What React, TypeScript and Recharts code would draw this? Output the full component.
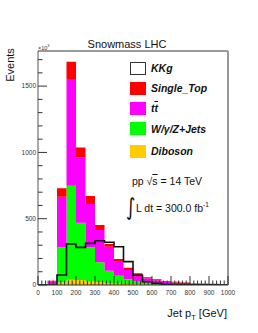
import React from 'react';
import { ComposedChart, Area, Line, XAxis, YAxis, ReferenceLine } from 'recharts';

// bin low edges in GeV, 50 GeV wide
const binEdges = [0, 50, 100, 150, 200, 250, 300, 350, 400, 450, 500, 550, 600, 650, 700, 750, 800, 850, 900, 950];
const diboson = [0, 2, 18, 40, 38, 30, 22, 15, 10, 7, 5, 3, 2, 2, 1, 1, 1, 1, 0, 0];
const wJets = [0, 6, 266, 709, 432, 255, 149, 93, 60, 36, 23, 15, 12, 8, 7, 5, 4, 3, 3, 3];
const ttbar = [0, 20, 382, 804, 493, 326, 244, 181, 106, 70, 45, 32, 21, 15, 11, 9, 6, 5, 4, 2];
const singleTop = [0, 4, 63, 131, 75, 60, 37, 20, 20, 17, 15, 8, 8, 6, 5, 3, 3, 2, 2, 2];
const kkg = [0, 0, 75, 309, 284, 314, 334, 322, 289, 176, 73, 25, 12, 6, 4, 3, 2, 1, 1, 0];

const xTicks = Array.from({ length: 51 }, (_, i) => i * 20);
const yTicks = Array.from({ length: 18 }, (_, i) => i * 100);
const X_MAX = 1000;
const Y_MAX = 1765;

const FONT = '"Liberation Sans", Arial, sans-serif';

// last edge repeats the last bin so the step closes at 1000
const data = [...binEdges, X_MAX].map((x, i) => {
    const j = Math.min(i, binEdges.length - 1);
    return { x, diboson: diboson[j], wjets: wJets[j], ttbar: ttbar[j], single: singleTop[j], kkg: kkg[j] };
});

const YTick = (props: any) => {
    const { x, y, payload } = props;
    const major = payload.value % 500 === 0;
    const ax = x + 2;
    return (
        <g>
            <line x1={ax} y1={y} x2={ax + (major ? 9 : 4.5)} y2={y} stroke="#333" strokeWidth={1} />
            {major && (
                <text x={x} y={y} dy={2.3} textAnchor="end" fontSize={6.5} fill="#333" fontFamily={FONT}>
                    {payload.value}
                </text>
            )}
        </g>
    );
};

const XTick = (props: any) => {
    const { x, y, payload } = props;
    const major = payload.value % 100 === 0;
    const ay = y - 2;
    return (
        <g>
            <line x1={x} y1={ay} x2={x} y2={ay - (major ? 9 : 4.5)} stroke="#333" strokeWidth={1} />
            {major && (
                <text x={x} y={y} dy={7.5} textAnchor="middle" fontSize={6.5} fill="#333" fontFamily={FONT}>
                    {payload.value}
                </text>
            )}
        </g>
    );
};

const legendRows = [
    { key: 'kkg', color: '#ffffff', label: <>KKg</> },
    { key: 'single', color: '#ff0000', label: <>Single_Top</> },
    { key: 'tt', color: '#ff00ff', label: <>t<span style={{ textDecoration: 'overline' }}>t</span></> },
    { key: 'w', color: '#00ff00', label: <>W/γ/Z+Jets</> },
    { key: 'db', color: '#ffcc00', label: <>Diboson</> },
];
const legendY = [68, 88, 108, 128.5, 151];

export default function App() {
    return (
        <div style={{ position: 'absolute', left: 0, top: 0, width: 258, height: 333, background: '#fff', fontFamily: FONT }}>
            <ComposedChart width={258} height={333} data={data} margin={{ top: 51, right: 30, bottom: 0, left: 0 }}>
                <XAxis
                    type="number"
                    dataKey="x"
                    domain={[0, X_MAX]}
                    ticks={xTicks}
                    interval={0}
                    height={48}
                    tickSize={0}
                    tickMargin={2}
                    tick={<XTick />}
                    axisLine={{ stroke: '#333', strokeWidth: 1 }}
                    allowDataOverflow
                />
                <YAxis
                    type="number"
                    domain={[0, Y_MAX]}
                    ticks={yTicks}
                    interval={0}
                    width={38}
                    tickSize={0}
                    tickMargin={2}
                    tick={<YTick />}
                    axisLine={{ stroke: '#555', strokeWidth: 1 }}
                    allowDataOverflow
                />
                <Area type="stepAfter" dataKey="diboson" stackId="s" stroke="none" fill="#ffcc00" fillOpacity={1} isAnimationActive={false} />
                <Area type="stepAfter" dataKey="wjets" stackId="s" stroke="none" fill="#00ff00" fillOpacity={1} isAnimationActive={false} />
                <Area type="stepAfter" dataKey="ttbar" stackId="s" stroke="none" fill="#ff00ff" fillOpacity={1} isAnimationActive={false} />
                <Area type="stepAfter" dataKey="single" stackId="s" stroke="none" fill="#ff0000" fillOpacity={1} isAnimationActive={false} />
                <Line type="stepAfter" dataKey="kkg" stroke="#111" strokeWidth={1.6} dot={false} isAnimationActive={false} />
                <ReferenceLine y={Y_MAX} stroke="#999" strokeWidth={2} />
                <ReferenceLine x={X_MAX} stroke="#999" strokeWidth={2} />
            </ComposedChart>

            <div style={{ position: 'absolute', left: 0, width: 254, top: 38, textAlign: 'center', fontSize: 11, color: '#111' }}>
                Snowmass LHC
            </div>
            <div style={{ position: 'absolute', left: 38, top: 43, fontSize: 5.5, color: '#333' }}>
                ×10<sup style={{ fontSize: 4 }}>3</sup>
            </div>
            <div
                style={{
                    position: 'absolute',
                    left: 10,
                    top: 65,
                    fontSize: 11,
                    color: '#111',
                    transform: 'translate(-50%, -50%) rotate(-90deg)',
                    whiteSpace: 'nowrap',
                }}
            >
                Events
            </div>
            <div style={{ position: 'absolute', right: 31, top: 307, fontSize: 11, color: '#111', whiteSpace: 'nowrap' }}>
                Jet p<sub style={{ fontSize: 7.5 }}>T</sub> [GeV]
            </div>

            {legendRows.map((r, i) => (
                <div key={r.key} style={{ position: 'absolute', left: 130, top: legendY[i] - 7, height: 14, display: 'flex', alignItems: 'center' }}>
                    <div
                        style={{
                            width: 16,
                            height: 13,
                            boxSizing: 'border-box',
                            background: r.color,
                            border: r.key === 'kkg' ? '1.5px solid #333' : 'none',
                        }}
                    />
                    <div style={{ marginLeft: 5, fontSize: 10.5, fontWeight: 'bold', fontStyle: 'italic', color: '#111', whiteSpace: 'nowrap' }}>
                        {r.label}
                    </div>
                </div>
            ))}

            <div style={{ position: 'absolute', left: 132, top: 175, fontSize: 10.5, color: '#111', whiteSpace: 'nowrap' }}>
                pp √<span style={{ textDecoration: 'overline' }}>s</span> = 14 TeV
            </div>
            <div
                style={{
                    position: 'absolute',
                    left: 126,
                    top: 194,
                    fontSize: 18,
                    fontFamily: '"DejaVu Sans", sans-serif',
                    color: '#111',
                    lineHeight: '20px',
                    transform: 'scaleY(1.3)',
                    transformOrigin: 'top left',
                }}
            >
                ∫
            </div>
            <div style={{ position: 'absolute', left: 136, top: 201, fontSize: 10.5, color: '#111', whiteSpace: 'nowrap' }}>
                L dt = 300.0 fb<sup style={{ fontSize: 6.5 }}>-1</sup>
            </div>
        </div>
    );
}
